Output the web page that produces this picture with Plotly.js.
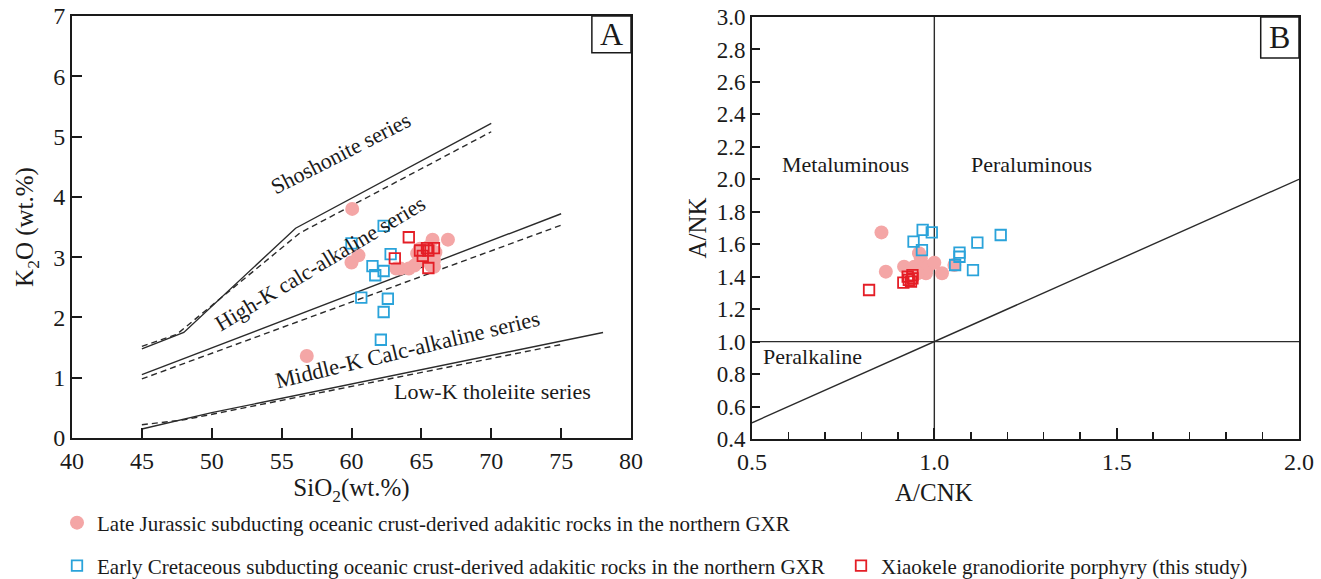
<!DOCTYPE html>
<html>
<head>
<meta charset="utf-8">
<script src="https://cdn.plot.ly/plotly-3.0.1.min.js"></script>
<style>
  html, body { margin: 0; padding: 0; background: #ffffff; }
  #chart { width: 1321px; height: 579px; }
</style>
</head>
<body>
<div id="chart"></div>
<script>
// ---------- Panel A: SiO2 vs K2O ----------
const jurassicSiO2 = [60.05, 60.5, 60.0, 56.8, 65.8, 66.9, 63.5, 64.1, 64.7, 65.2, 65.9, 65.9, 66.0, 64.5, 65.5, 64.9, 63.2, 65.7];
const jurassicK2O  = [3.80, 3.03, 2.91, 1.36, 3.29, 3.29, 2.81, 2.81, 3.06, 2.95, 2.95, 2.84, 3.08, 2.86, 3.17, 3.14, 2.81, 2.86];

const cretaceousSiO2 = [62.3, 60.0, 62.8, 61.5, 61.7, 62.3, 60.7, 62.6, 62.3, 62.1];
const cretaceousK2O  = [3.52, 3.23, 3.05, 2.85, 2.70, 2.77, 2.33, 2.31, 2.09, 1.63];

const xiaokeleSiO2 = [64.1, 63.1, 64.9, 65.4, 65.9, 65.1, 65.5, 65.5];
const xiaokeleK2O  = [3.33, 2.98, 3.11, 3.15, 3.15, 3.02, 2.82, 3.11];

// series boundary lines (solid and dashed versions)
const shoSolidX = [45, 48, 56, 70];
const shoSolidY = [1.48, 1.75, 3.48, 5.22];
const shoDashX  = [45, 47.5, 56.3, 70];
const shoDashY  = [1.52, 1.72, 3.40, 5.08];
const hkSolidX  = [45, 75];
const hkSolidY  = [1.05, 3.72];
const hkDashX   = [45, 75];
const hkDashY   = [0.98, 3.53];
const lkSolidX  = [45, 50, 78];
const lkSolidY  = [0.15, 0.42, 1.75];
const lkDashX   = [45, 48, 75];
const lkDashY   = [0.22, 0.30, 1.55];

// ---------- Panel B: A/CNK vs A/NK ----------
const jurassicACNK = [0.855, 0.867, 0.917, 0.945, 0.963, 0.968, 0.982, 1.0, 1.021, 0.977, 0.954, 1.055, 0.958];
const jurassicANK  = [1.673, 1.431, 1.462, 1.462, 1.513, 1.441, 1.462, 1.486, 1.421, 1.421, 1.421, 1.472, 1.544];

const cretaceousACNK = [0.968, 0.993, 0.943, 0.966, 1.182, 1.118, 1.069, 1.069, 1.057, 1.106];
const cretaceousANK  = [1.688, 1.673, 1.616, 1.564, 1.657, 1.610, 1.548, 1.523, 1.472, 1.441];

const xiaokeleACNK = [0.821, 0.915, 0.936, 0.940, 0.927, 0.940, 0.930];
const xiaokeleANK  = [1.318, 1.363, 1.369, 1.410, 1.400, 1.390, 1.380];

const vLineX = [1.0, 1.0];
const vLineY = [0.4, 3.0];
const hLineX = [0.5, 2.0];
const hLineY = [1.0, 1.0];
const diagX  = [0.5, 2.0];
const diagY  = [0.5, 2.0];

const seriesNames = [
  'Late Jurassic subducting oceanic crust-derived adakitic rocks in the northern GXR',
  'Early Cretaceous subducting oceanic crust-derived adakitic rocks in the northern GXR',
  'Xiaokele granodiorite porphyry (this study)'
];

const PINK = '#F4A6A6', BLUE = '#2AA3DA', RED = '#E41E26', LINE = '#2b2b2b';
const SERIF = 'Liberation Serif, Times New Roman, serif';
const INK = '#1a1a1a';

function bline(x, y, dash, xa, ya) {
  return { x: x, y: y, xaxis: xa, yaxis: ya, mode: 'lines', type: 'scatter',
           line: { color: LINE, width: 1.4, dash: dash }, showlegend: false, hoverinfo: 'skip' };
}
const pinkM = { symbol: 'circle', size: 14, color: PINK };
const blueM = { symbol: 'square-open', size: 10.5, color: BLUE, line: { width: 1.8, color: BLUE } };
const redM  = { symbol: 'square-open', size: 10.5, color: RED,  line: { width: 1.8, color: RED } };

const traces = [
  bline(shoSolidX, shoSolidY, 'solid', 'x', 'y'),
  bline(shoDashX, shoDashY, '6px,4px', 'x', 'y'),
  bline(hkSolidX, hkSolidY, 'solid', 'x', 'y'),
  bline(hkDashX, hkDashY, '6px,4px', 'x', 'y'),
  bline(lkSolidX, lkSolidY, 'solid', 'x', 'y'),
  bline(lkDashX, lkDashY, '6px,4px', 'x', 'y'),
  bline(vLineX, vLineY, 'solid', 'x2', 'y2'),
  bline(hLineX, hLineY, 'solid', 'x2', 'y2'),
  bline(diagX, diagY, 'solid', 'x2', 'y2'),
  { x: jurassicSiO2, y: jurassicK2O, xaxis: 'x', yaxis: 'y', mode: 'markers', type: 'scatter',
    marker: pinkM, name: seriesNames[0], legend: 'legend', showlegend: true },
  { x: cretaceousSiO2, y: cretaceousK2O, xaxis: 'x', yaxis: 'y', mode: 'markers', type: 'scatter',
    marker: blueM, name: seriesNames[1], legend: 'legend2', showlegend: true },
  { x: xiaokeleSiO2, y: xiaokeleK2O, xaxis: 'x', yaxis: 'y', mode: 'markers', type: 'scatter',
    marker: redM, name: seriesNames[2], legend: 'legend3', showlegend: true },
  { x: jurassicACNK, y: jurassicANK, xaxis: 'x2', yaxis: 'y2', mode: 'markers', type: 'scatter',
    marker: pinkM, name: seriesNames[0], showlegend: false },
  { x: cretaceousACNK, y: cretaceousANK, xaxis: 'x2', yaxis: 'y2', mode: 'markers', type: 'scatter',
    marker: blueM, name: seriesNames[1], showlegend: false },
  { x: xiaokeleACNK, y: xiaokeleANK, xaxis: 'x2', yaxis: 'y2', mode: 'markers', type: 'scatter',
    marker: redM, name: seriesNames[2], showlegend: false }
];

const W = 1321, H = 579;
const axBase = {
  showline: true, mirror: true, linecolor: INK, linewidth: 2,
  ticks: 'inside', tickcolor: INK, tickwidth: 2,
  showgrid: false, zeroline: false, fixedrange: true, automargin: false,
  tickfont: { family: SERIF, size: 24, color: INK }
};

function ann(text, x, y, xref, yref, angle, size) {
  return { text: text, x: x, y: y, xref: xref, yref: yref, showarrow: false, textangle: angle,
           xanchor: 'center', yanchor: 'middle',
           font: { family: SERIF, size: size || 22, color: INK } };
}
function legendAt(px, py) {
  return { x: px / W, y: (H - py) / H, xanchor: 'left', yanchor: 'middle',
           orientation: 'v', bgcolor: 'rgba(0,0,0,0)', borderwidth: 0,
           font: { family: SERIF, size: 21, color: INK } };
}

const layout = {
  width: W, height: H,
  margin: { l: 0, r: 0, t: 0, b: 0, autoexpand: false },
  paper_bgcolor: '#ffffff', plot_bgcolor: '#ffffff',
  xaxis: Object.assign({}, axBase, {
    domain: [72 / W, 631 / W], range: [40, 80], anchor: 'y',
    tickvals: [40, 45, 50, 55, 60, 65, 70, 75, 80], ticklen: 10,
    title: { text: 'SiO<sub>2</sub>(wt.%)', standoff: 6, font: { family: SERIF, size: 25, color: INK } }
  }),
  yaxis: Object.assign({}, axBase, {
    domain: [(H - 438) / H, (H - 16) / H], range: [0, 7], anchor: 'x',
    tickvals: [0, 1, 2, 3, 4, 5, 6, 7], ticklen: 10,
    title: { text: 'K<sub>2</sub>O (wt.%)', standoff: 12, font: { family: SERIF, size: 25, color: INK } }
  }),
  xaxis2: Object.assign({}, axBase, {
    domain: [752 / W, 1299 / W], range: [0.5, 2.0], anchor: 'y2',
    tickvals: [0.5, 1.0, 1.5, 2.0], ticktext: ['0.5', '1.0', '1.5', '2.0'], ticklen: 11,
    minor: { dtick: 0.1, ticks: 'inside', ticklen: 7, tickwidth: 1.5, tickcolor: INK, showgrid: false }
  }),
  yaxis2: Object.assign({}, axBase, {
    domain: [(H - 439) / H, (H - 17) / H], range: [0.4, 3.0], anchor: 'x2',
    tickvals: [0.4, 0.6, 0.8, 1.0, 1.2, 1.4, 1.6, 1.8, 2.0, 2.2, 2.4, 2.6, 2.8, 3.0],
    tickformat: '.1f', ticklen: 8,
    tickfont: { family: SERIF, size: 23, color: INK },
    title: { text: 'A/NK', standoff: 3, font: { family: SERIF, size: 25, color: INK } }
  }),
  shapes: [
    { type: 'rect', xref: 'x domain', yref: 'y domain', x0: 0.93, x1: 1.0, y0: 0.913, y1: 1.0,
      line: { color: INK, width: 1.5 }, fillcolor: 'rgba(0,0,0,0)' },
    { type: 'rect', xref: 'x2 domain', yref: 'y2 domain', x0: 0.93, x1: 1.0, y0: 0.903, y1: 1.0,
      line: { color: INK, width: 1.5 }, fillcolor: 'rgba(0,0,0,0)' }
  ],
  annotations: [
    ann('A', 0.965, 0.957, 'x domain', 'y domain', 0, 32),
    ann('B', 0.965, 0.952, 'x2 domain', 'y2 domain', 0, 32),
    ann('Shoshonite series', 59.2, 4.72, 'x', 'y', -27, 22),
    ann('High-K calc-alkaline series', 57.75, 2.89, 'x', 'y', -31, 22),
    ann('Middle-K Calc-alkaline series', 64.0, 1.46, 'x', 'y', -13.5, 22.5),
    ann('Low-K tholeiite series', 70.1, 0.77, 'x', 'y', 0, 22),
    ann('Metaluminous', 0.757, 2.09, 'x2', 'y2', 0, 22),
    ann('Peraluminous', 1.267, 2.09, 'x2', 'y2', 0, 22),
    ann('Peralkaline', 0.665, 0.91, 'x2', 'y2', 0, 22),
    { text: 'A/CNK', x: 1.0, xref: 'x2', y: (H - 492) / H, yref: 'paper', showarrow: false,
      xanchor: 'center', yanchor: 'middle', font: { family: SERIF, size: 25, color: INK } }
  ],
  legend: legendAt(57, 523),
  legend2: legendAt(57, 566),
  legend3: legendAt(841, 566),
  showlegend: true
};

Plotly.newPlot('chart', traces, layout, { staticPlot: true, displayModeBar: false });
</script>
</body>
</html>
